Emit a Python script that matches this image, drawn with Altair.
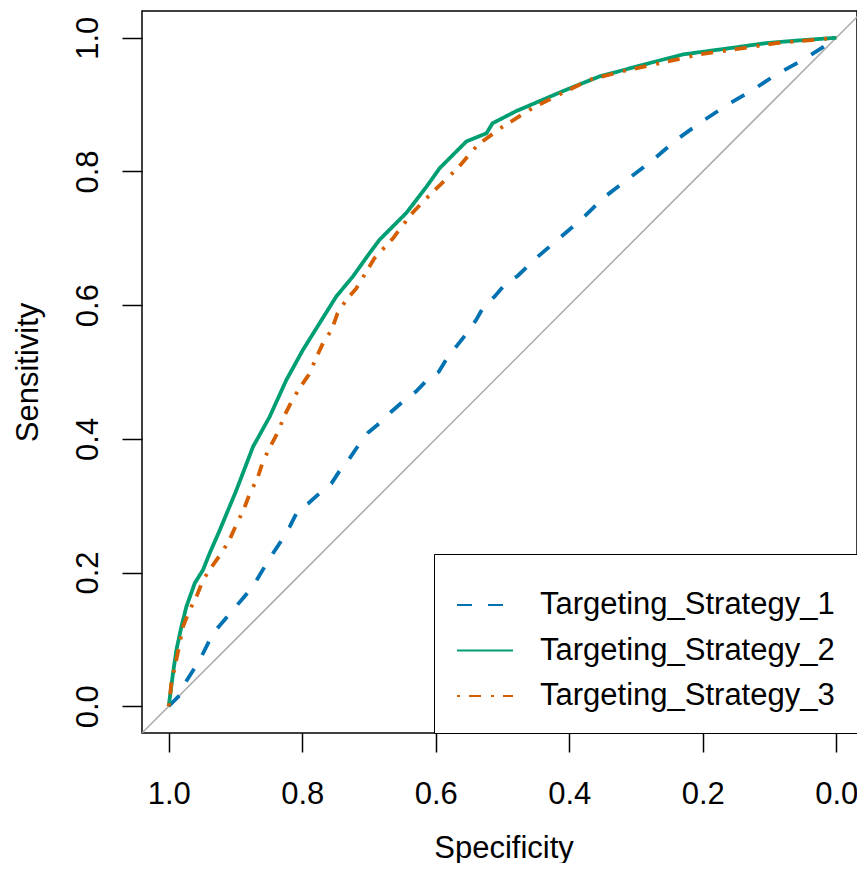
import altair as alt
import pandas as pd

# ---- data ----
names = ["Targeting_Strategy_1", "Targeting_Strategy_2", "Targeting_Strategy_3"]
colors = ["#0072B2", "#009E73", "#D55E00"]

spec_1 = [1.0, 0.981, 0.976, 0.9536, 0.9337, 0.9037, 0.874, 0.849, 0.829, 0.819, 0.8064,
          0.7915, 0.7714, 0.7564, 0.7415, 0.729, 0.714, 0.7016, 0.68, 0.6666, 0.6467, 0.63,
          0.612, 0.5954, 0.5804, 0.5693, 0.552, 0.5394, 0.527, 0.512, 0.4945, 0.477, 0.45,
          0.415, 0.38, 0.347, 0.31, 0.275, 0.24, 0.205, 0.163, 0.125, 0.09, 0.05, 0.0105, 0.0]
sens_1 = [0.0, 0.019, 0.034, 0.069, 0.109, 0.144, 0.179, 0.221, 0.251, 0.268, 0.293,
          0.303, 0.321, 0.333, 0.356, 0.371, 0.393, 0.409, 0.427, 0.4406, 0.458, 0.4705,
          0.489, 0.5004, 0.525, 0.538, 0.56, 0.578, 0.6, 0.6127, 0.633, 0.644, 0.67,
          0.7, 0.73, 0.762, 0.79, 0.817, 0.847, 0.872, 0.9, 0.922, 0.945, 0.967, 0.992, 1.0]

spec_2 = [1.0, 0.9936, 0.9885, 0.981, 0.9735, 0.961, 0.9486, 0.9386, 0.9237, 0.8987,
          0.8738, 0.8488, 0.8238, 0.799, 0.774, 0.749, 0.724, 0.699, 0.684, 0.644, 0.614,
          0.594, 0.554, 0.524, 0.515, 0.48, 0.405, 0.355, 0.28, 0.23, 0.155, 0.105, 0.056, 0.0]
sens_2 = [0.0, 0.049, 0.084, 0.119, 0.149, 0.184, 0.204, 0.229, 0.263, 0.323,
          0.388, 0.433, 0.488, 0.533, 0.573, 0.613, 0.643, 0.678, 0.698, 0.738, 0.777,
          0.805, 0.845, 0.857, 0.872, 0.89, 0.922, 0.942, 0.962, 0.975, 0.985, 0.992, 0.996, 1.0]

spec_3 = [1.0, 0.9985, 0.996, 0.9895, 0.9835, 0.9786, 0.9686, 0.9576, 0.9486, 0.9346, 0.921,
          0.9087, 0.899, 0.8877, 0.8787, 0.867, 0.859, 0.848, 0.836, 0.827, 0.816, 0.804,
          0.79, 0.78, 0.769, 0.756, 0.747, 0.734, 0.719, 0.707, 0.692, 0.664, 0.649, 0.634,
          0.604, 0.567, 0.537, 0.4996, 0.4546, 0.415, 0.37, 0.315, 0.26, 0.205, 0.15, 0.09, 0.03, 0.0]
sens_3 = [0.0, 0.009, 0.036, 0.065, 0.094, 0.119, 0.144, 0.166, 0.189, 0.21, 0.229,
          0.2495, 0.271, 0.294, 0.318, 0.341, 0.366, 0.388, 0.411, 0.434, 0.456, 0.476,
          0.496, 0.519, 0.543, 0.563, 0.588, 0.608, 0.625, 0.645, 0.67, 0.7, 0.72, 0.739,
          0.77, 0.805, 0.84, 0.867, 0.895, 0.915, 0.937, 0.951, 0.963, 0.975, 0.983, 0.992, 0.997, 1.0]

diag_spec = [1.04, -0.04]
diag_sens = [-0.04, 1.04]

tick_values = [0.0, 0.2, 0.4, 0.6, 0.8, 1.0]

# ---- tables ----
rows = []
for name, sp, se in zip(names, [spec_1, spec_2, spec_3], [sens_1, sens_2, sens_3]):
    for i, (a, b) in enumerate(zip(sp, se)):
        rows.append({"strategy": name, "spec": a, "sens": b, "idx": i})
df = pd.DataFrame(rows)
diag = pd.DataFrame({"spec": diag_spec, "sens": diag_sens})

FONT = "Liberation Sans"
FS = 31

x_scale = alt.Scale(domain=[-0.031, 1.04], reverse=True, nice=False, zero=False)
y_scale = alt.Scale(domain=[-0.04, 1.04], nice=False, zero=False)

x_axis = alt.Axis(
    values=tick_values, format=".1f", title="Specificity", domain=False, grid=False,
    tickSize=19, tickWidth=1.5, tickColor="black",
    labelFont=FONT, labelFontSize=FS, labelColor="black", labelPadding=51,
    labelBaseline="alphabetic", labelFlush=False, labelOverlap=False,
    titleFont=FONT, titleFontSize=FS, titleFontWeight="normal", titleColor="black",
    titleBaseline="alphabetic", titleX=361.5, titleY=124,
)
y_axis = alt.Axis(
    values=tick_values, format=".1f", title="Sensitivity", domain=False, grid=False,
    tickSize=20, tickWidth=1.5, tickColor="black",
    labelFont=FONT, labelFontSize=FS, labelColor="black", labelPadding=25,
    labelAngle=270, labelAlign="center", labelBaseline="alphabetic",
    labelFlush=False, labelOverlap=False,
    titleFont=FONT, titleFontSize=FS, titleFontWeight="normal", titleColor="black",
    titleAngle=270, titleAlign="center", titleBaseline="alphabetic", titleX=-105, titleY=361,
)

legend = alt.Legend(
    title=None, orient="bottom-right", offset=0, padding=22, labelOffset=26, rowPadding=1.5,
    symbolType="stroke", symbolSize=3136, symbolStrokeWidth=2,
    labelFont=FONT, labelFontSize=FS, labelColor="black", labelLimit=0,
    strokeColor="black", fillColor="white",
)

diag_layer = alt.Chart(diag).mark_line(color="#A9A9A9", strokeWidth=1.5, clip=True).encode(
    x=alt.X("spec:Q", scale=x_scale, axis=x_axis),
    y=alt.Y("sens:Q", scale=y_scale, axis=y_axis),
)

curves = alt.Chart(df).mark_line(strokeWidth=3.8, clip=True).encode(
    x=alt.X("spec:Q", scale=x_scale, axis=x_axis),
    y=alt.Y("sens:Q", scale=y_scale, axis=y_axis),
    color=alt.Color("strategy:N", scale=alt.Scale(domain=names, range=colors), legend=legend),
    strokeDash=alt.StrokeDash("strategy:N",
                              scale=alt.Scale(domain=names, range=[[15, 16], [1, 0], [3, 9, 12, 10]]),
                              legend=legend),
    order=alt.Order("idx:Q"),
)

chart = alt.layer(diag_layer, curves).properties(
    width=715, height=722,
    autosize=alt.AutoSizeParams(type="none"),
    padding={"left": 134, "top": 3, "right": 0, "bottom": 130},
    background="white",
).configure_view(stroke="black", strokeWidth=1.5)

chart.save("out.html", embed_options={"renderer": "svg", "actions": False})
